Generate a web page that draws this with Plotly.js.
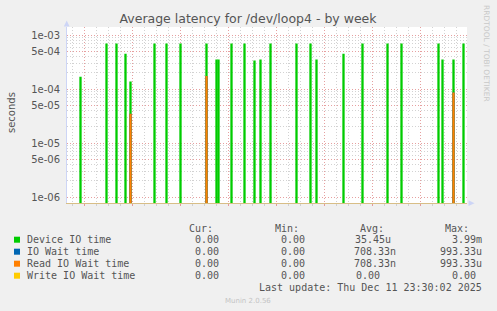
<!DOCTYPE html>
<html>
<head>
<meta charset="utf-8">
<script src="https://cdn.plot.ly/plotly-3.0.1.min.js"></script>
<style>html,body{margin:0;padding:0;background:#f0f0f0;}#chart{width:497px;height:311px;}</style>
</head>
<body>
<div id="chart"></div>
<script>
// ---- data (30-minute samples with non-zero values; all others are 0) ----
const rangeStart = '2025-12-03 15:30';
const rangeEnd = '2025-12-11 23:30';
const spikeStart = [
  '2025-12-03 22:00','2025-12-04 11:00','2025-12-04 16:00','2025-12-04 20:30','2025-12-04 23:00',
  '2025-12-05 11:00','2025-12-05 17:00','2025-12-06 00:00','2025-12-06 13:00','2025-12-06 18:00',
  '2025-12-06 19:00','2025-12-07 01:30','2025-12-07 08:00','2025-12-07 13:00','2025-12-07 16:00',
  '2025-12-07 21:00','2025-12-08 10:00','2025-12-08 17:00','2025-12-08 20:00','2025-12-09 09:30',
  '2025-12-09 19:00','2025-12-10 07:30','2025-12-10 14:30','2025-12-11 09:00','2025-12-11 11:00',
  '2025-12-11 16:30','2025-12-11 21:30'
];
const deviceIO = [
  1.65e-4,6.8e-4,6.8e-4,4.4e-4,1.35e-4,
  6.8e-4,6.8e-4,6.8e-4,6.8e-4,3.45e-4,
  3.45e-4,6.8e-4,6.8e-4,3.3e-4,3.45e-4,
  6.8e-4,6.8e-4,6.8e-4,3.45e-4,4.4e-4,
  6.8e-4,6.8e-4,6.8e-4,6.8e-4,3.45e-4,
  3.45e-4,6.8e-4
];
const ioWait = [
  0,0,0,0,3.4e-5,
  0,0,0,1.7e-4,0,
  0,0,0,0,0,
  0,0,0,0,0,
  0,0,0,0,0,
  8.4e-5,0
];
const readIOWait = [
  0,0,0,0,3.4e-5,
  0,0,0,1.7e-4,0,
  0,0,0,0,0,
  0,0,0,0,0,
  0,0,0,0,0,
  8.4e-5,0
];
const writeIOWait = [
  0,0,0,0,0, 0,0,0,0,0, 0,0,0,0,0, 0,0,0,0,0, 0,0,0,0,0, 0,0
];
const dayGrid = ['2025-12-04','2025-12-05','2025-12-06','2025-12-07','2025-12-08','2025-12-09','2025-12-10','2025-12-11'];
const dayLabelPos = ['2025-12-04 12:00','2025-12-05 12:00','2025-12-06 12:00','2025-12-07 12:00','2025-12-08 12:00','2025-12-09 12:00','2025-12-10 12:00','2025-12-11 12:00'];
const dayLabels = ['04 Dez','05 Dez','06 Dez','07 Dez','08 Dez','09 Dez','10 Dez','11 Dez'];
const yTickVals = [1e-6,5e-6,1e-5,5e-5,1e-4,5e-4,1e-3];
const yTickText = ['1e-06','5e-06','1e-05','5e-05','1e-04','5e-04','1e-03'];
const yMinorVals = [2e-6,3e-6,4e-6,6e-6,7e-6,8e-6,9e-6,2e-5,3e-5,4e-5,6e-5,7e-5,8e-5,9e-5,2e-4,3e-4,4e-4,6e-4,7e-4,8e-4,9e-4];

const seriesNames = ['Device IO time','IO Wait time','Read IO Wait time','Write IO Wait time'];
const seriesColors = ['#00cc00','#0066b3','#ff8000','#ffcc00'];
const curVals = ['0.00','0.00','0.00','0.00'];
const minVals = ['0.00','0.00','0.00','0.00'];
const avgVals = ['35.45u','708.33n','708.33n','0.00'];
const maxVals = ['3.99m','993.33u','993.33u','0.00'];
const lastUpdate = 'Last update: Thu Dec 11 23:30:02 2025';

// ---- helpers ----
const STEP = 30*60*1000;
function toMs2(s){ return s.length<=10 ? Date.parse(s+'T00:00:00Z') : Date.parse(s.replace(' ','T')+':00Z'); }
function buildSteps(values){
  const xs=[], ys=[];
  values.forEach((v,i)=>{
    if(!v) return;
    const t0 = toMs2(spikeStart[i]), t1 = t0 + STEP;
    xs.push(t0,t0,t1,t1,null); ys.push(1e-9,v,v,1e-9,null);
  });
  return {x:xs,y:ys};
}
const allSeries = [deviceIO, ioWait, readIOWait, writeIOWait];
const traces = allSeries.map((vals,k)=>{
  const s = buildSteps(vals);
  return {type:'scatter',mode:'lines',x:s.x,y:s.y,xaxis:'x',yaxis:'y',
    line:{color:seriesColors[k],width:1.3},connectgaps:false,hoverinfo:'skip',showlegend:false};
});

const L=67, T=27, W=400, H=176;
const px = p => (p-L)/W;
const py = p => (T+H-p)/H;

const annotations = [];
function ann(text,x,y,xa,opts){
  annotations.push(Object.assign({text:text,xref:'paper',yref:'paper',x:px(x),y:py(y),xanchor:xa,yanchor:'middle',
    showarrow:false,borderpad:0,font:{family:'DejaVu Sans Mono',size:10,color:'#555'}},opts||{}));
}
ann('Cur:',213.5,228,'right');
ann('Min:',299.5,228,'right');
ann('Avg:',384.5,228,'right');
ann('Max:',470,228,'right');
const rowY=[239.7,251.7,263.7,275.7];
const avgRight=[391.7,396.7,396.7,381.3];
const maxRight=[483.3,482.7,482.7,476.7];
const shapes=[];
seriesNames.forEach((n,i)=>{
  ann(n,26,rowY[i],'left');
  ann(curVals[i],219.5,rowY[i],'right');
  ann(minVals[i],305.8,rowY[i],'right');
  ann(avgVals[i],avgRight[i],rowY[i],'right');
  ann(maxVals[i],maxRight[i],rowY[i],'right');
  shapes.push({type:'rect',xref:'paper',yref:'paper',x0:px(14),x1:px(20),y0:py(rowY[i]+3),y1:py(rowY[i]-3),
    fillcolor:seriesColors[i],line:{width:0}});
});
ann(lastUpdate,483,287.3,'right');
ann('Munin 2.0.56',248,300.5,'center',{font:{family:'DejaVu Sans',size:7,color:'#c4c4c4'}});
ann('seconds',11,112,'center',{textangle:-90,font:{family:'DejaVu Sans',size:10,color:'#555'}});
ann('RRDTOOL / TOBI OETIKER',487,53,'center',{textangle:90,font:{family:'DejaVu Sans',size:7.5,color:'#c8c8c8'}});

// axis arrows
shapes.push({type:'path',xref:'paper',yref:'paper',
  path:`M ${px(63.8)} ${py(26.5)} L ${px(69.6)} ${py(26.5)} L ${px(66.7)} ${py(20.5)} Z`,
  fillcolor:'#cdd5f6',line:{width:0}});
shapes.push({type:'path',xref:'paper',yref:'paper',
  path:`M ${px(468.5)} ${py(200.3)} L ${px(468.5)} ${py(206)} L ${px(474.5)} ${py(203.2)} Z`,
  fillcolor:'#cdd5f6',line:{width:0}});

const layout = {
  width:497,height:311,
  margin:{l:L,r:497-L-W,t:T,b:311-T-H,pad:0},
  paper_bgcolor:'#f0f0f0',plot_bgcolor:'#ffffff',
  showlegend:false,
  title:{text:'Average latency for /dev/loop4 - by week',x:248/497,xanchor:'center',xref:'container',
    y:1-19/311,yanchor:'middle',yref:'container',font:{family:'DejaVu Sans',size:12.5,color:'#555'}},
  font:{family:'DejaVu Sans',size:10,color:'#555'},
  xaxis:{type:'date',range:[toMs2(rangeStart),toMs2(rangeEnd)],tickmode:'array',tickvals:dayGrid.map(toMs2),
    showticklabels:false,ticks:'outside',ticklen:2,tickcolor:'#e49a9a',
    showgrid:true,gridcolor:'#e6a0a0',griddash:'1px,2px',gridwidth:1,
    minor:{tick0:toMs2('2025-12-04'),dtick:6*3600*1000,showgrid:true,gridcolor:'#d2d2d2',griddash:'1px,2px',ticks:'outside',ticklen:2,tickcolor:'#d0d0d0'},
    showline:true,linecolor:'#d8be86',linewidth:1,zeroline:false,fixedrange:true},
  xaxis2:{type:'date',overlaying:'x',anchor:'y',side:'bottom',range:[toMs2(rangeStart),toMs2(rangeEnd)],
    tickmode:'array',tickvals:dayLabelPos.map(toMs2),ticktext:dayLabels,showgrid:false,showline:false,zeroline:false,
    ticks:'outside',ticklen:3,tickcolor:'rgba(0,0,0,0)',tickfont:{family:'DejaVu Sans',size:10,color:'#555'}},
  yaxis:{type:'log',range:[-6.108,-2.85],tickmode:'array',tickvals:yTickVals,ticktext:yTickText,
    showgrid:true,gridcolor:'#e6a0a0',griddash:'1px,2px',gridwidth:1,
    minor:{tickmode:'array',tickvals:yMinorVals,showgrid:true,gridcolor:'#d2d2d2',griddash:'1px,2px'},
    ticks:'outside',ticklen:4,tickcolor:'rgba(0,0,0,0)',tickfont:{family:'DejaVu Sans',size:10,color:'#555'},
    showline:true,linecolor:'#cdd5f6',linewidth:1,zeroline:false,fixedrange:true},
  shapes:shapes,
  annotations:annotations
};
Plotly.newPlot('chart',traces,layout,{staticPlot:true,displayModeBar:false});
</script>
</body>
</html>
